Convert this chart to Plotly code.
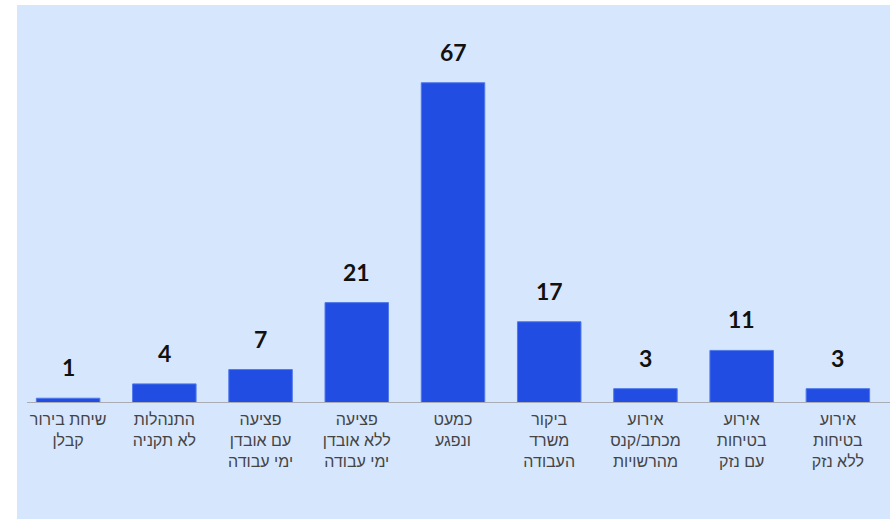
import plotly.graph_objects as go

categories = [
    "שיחת בירור<br>קבלן",
    "התנהלות<br>לא תקניה",
    "פציעה<br>עם אובדן<br>ימי עבודה",
    "פציעה<br>ללא אובדן<br>ימי עבודה",
    "כמעט<br>ונפגע",
    "ביקור<br>משרד<br>העבודה",
    "אירוע<br>מכתב/קנס<br>מהרשויות",
    "אירוע<br>בטיחות<br>עם נזק",
    "אירוע<br>בטיחות<br>ללא נזק",
]
values = [1, 4, 7, 21, 67, 17, 3, 11, 3]

W, H = 890, 519
ML, MR, MT, MB = 20, 4, 5, 116
pw = W - ML - MR
ph = H - MT - MB

BG = "#d6e6fd"
BAR = "#214de3"

fig = go.Figure()
fig.add_trace(go.Bar(
    x=categories,
    y=values,
    marker=dict(color=BAR, line=dict(color="#5079ea", width=1)),
    width=0.66,
    hoverinfo="skip",
))

for c, v in zip(categories, values):
    fig.add_annotation(
        x=c, y=v, text=str(v), showarrow=False,
        yanchor="bottom", yshift=15,
        font=dict(family="Lato", size=23, color="#111111", weight="bold"),
    )

# light blue panel
fig.add_shape(
    type="rect", xref="paper", yref="paper", layer="below",
    x0=(17 - ML) / pw, x1=(W - ML) / pw,
    y0=-(MB) / ph, y1=1 + (MT - 5) / ph,
    fillcolor=BG, line=dict(width=0),
)
# baseline
fig.add_shape(
    type="line", xref="paper", yref="y", layer="above",
    x0=(27 - ML) / pw, x1=(W - ML) / pw, y0=0, y1=0,
    line=dict(color="#a9acb4", width=2),
)

fig.update_layout(
    width=W, height=H,
    margin=dict(l=ML, r=MR, t=MT, b=MB),
    paper_bgcolor="white",
    plot_bgcolor="rgba(0,0,0,0)",
    showlegend=False,
    bargap=0.34,
    xaxis=dict(
        showgrid=False, zeroline=False, showline=False,
        ticks="", tickfont=dict(family="Liberation Sans", size=16, color="#444444"),
        tickangle=0, fixedrange=True, ticklabelstandoff=5,
    ),
    yaxis=dict(
        range=[0, ph / 4.78], showgrid=False, zeroline=False,
        showticklabels=False, showline=False, fixedrange=True,
    ),
)

fig.write_html(
    "out.html",
    config={"displayModeBar": False},
    post_script="document.body.style.margin='0';",
)
